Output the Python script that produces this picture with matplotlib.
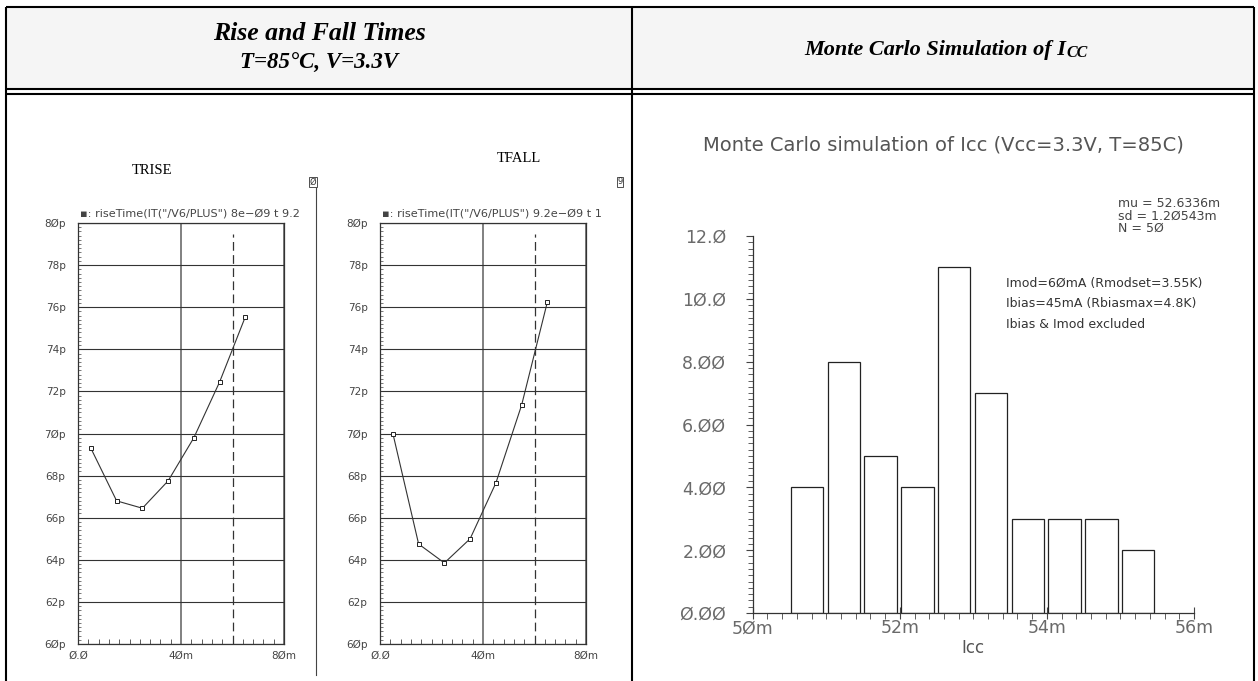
import matplotlib
matplotlib.use("Agg")
import matplotlib.pyplot as plt
from matplotlib.patches import Rectangle
from matplotlib.ticker import MultipleLocator, FuncFormatter, FixedLocator

# sweep values (m) and measured times (ps)
sweep_m = [5, 15, 25, 35, 45, 55, 65]
trise_ps = [69.3, 66.8, 66.45, 67.75, 69.8, 72.45, 75.55]
tfall_ps = [70.0, 64.75, 63.85, 65.0, 67.65, 71.35, 76.25]
cursor_m = 60

# Monte Carlo histogram of Icc (mA)
bin_left = [50.5, 51.0, 51.5, 52.0, 52.5, 53.0, 53.5, 54.0, 54.5, 55.0]
bin_count = [4, 8, 5, 4, 11, 7, 3, 3, 3, 2]

W, H = 1258, 681
fig = plt.figure(figsize=(W / 100, H / 100), dpi=100)

# table frame drawn in pixel coordinates
bg = fig.add_axes([0, 0, 1, 1])
bg.set_xlim(0, W)
bg.set_ylim(H, 0)
bg.axis("off")
bg.add_patch(Rectangle((6, 7), 1248, 82, facecolor="#f5f5f5", edgecolor="none"))
lw_frame = 1.5
for y in (7, 89, 94):
    bg.plot([6, 1254], [y, y], color="black", lw=lw_frame, solid_capstyle="butt")
for x in (6, 632, 1254):
    bg.plot([x, x], [7, H], color="black", lw=lw_frame, solid_capstyle="butt")
bg.plot([316, 316], [188, 675], color="#444444", lw=0.8)

serif = "Liberation Serif"
hdr = dict(family=serif, weight="bold", style="italic")
bg.text(319, 40, "Rise and Fall Times", ha="center", va="baseline", fontsize=18.5, **hdr)
bg.text(319, 69, "T=85°C, V=3.3V", ha="center", va="baseline", fontsize=16.5, **hdr)
t = bg.text(935, 55, "Monte Carlo Simulation of I", ha="center", va="baseline",
            fontsize=16, **hdr)
bg.annotate("CC", xy=(1, 0), xycoords=t, xytext=(0.5, -1), textcoords="offset points",
            ha="left", va="bottom", fontsize=11.5, **hdr)

bg.text(152, 170, "TRISE", ha="center", va="center", family=serif, fontsize=10.5)
bg.text(519, 158, "TFALL", ha="center", va="center", family=serif, fontsize=10.5)
for x, s in ((313, "Ø"), (620, "9")):
    bg.text(x, 182, s, ha="center", va="center", fontsize=6, color="#333333",
            bbox=dict(boxstyle="square,pad=0.1", facecolor="white",
                      edgecolor="#333333", lw=0.6))


def zslash(s):
    return s.replace("0", "Ø")


def small_plot(left, values, label):
    ax = fig.add_axes([left / W, (H - 644) / H, 206 / W, 421 / H])
    ax.plot(sweep_m, values, color="#333333", lw=0.8, marker="s", markersize=2.2,
            markerfacecolor="white", markeredgecolor="#222222", markeredgewidth=0.7)
    ax.axvline(cursor_m, ymax=0.975, color="#333333", lw=0.9, dashes=(7, 3.5))
    ax.set_xlim(0, 80)
    ax.set_ylim(60, 80)
    ax.xaxis.set_major_locator(FixedLocator([0, 40, 80]))
    ax.xaxis.set_minor_locator(MultipleLocator(4))
    ax.yaxis.set_major_locator(MultipleLocator(2))
    ax.yaxis.set_minor_locator(MultipleLocator(0.2))
    ax.xaxis.set_major_formatter(FuncFormatter(
        lambda v, p: "Ø.Ø" if v == 0 else zslash(f"{v:.0f}m")))
    ax.yaxis.set_major_formatter(FuncFormatter(lambda v, p: zslash(f"{v:.0f}p")))
    ax.grid(axis="y", color="#333333", lw=0.8)
    ax.grid(axis="x", color="#808080", lw=1.4)
    ax.tick_params(which="both", direction="in", right=False, top=False,
                   labelsize=7.5, labelcolor="#444444", color="#444444")
    ax.tick_params(axis="y", which="major", length=0, pad=9)
    ax.tick_params(axis="y", which="minor", length=2, width=0.5)
    ax.tick_params(axis="x", which="major", length=0, pad=5)
    ax.tick_params(axis="x", which="minor", length=3.5, width=0.6)
    for sp in ax.spines.values():
        sp.set_color("#333333")
        sp.set_linewidth(0.9)
    ax.set_axisbelow(True)
    ax.text(0.01, 1.01, "▪: " + label, transform=ax.transAxes, ha="left",
            va="bottom", fontsize=8.1, color="#444444")
    return ax


small_plot(78, trise_ps, 'riseTime(IT("/V6/PLUS") 8e−Ø9 t 9.2')
small_plot(380, tfall_ps, 'riseTime(IT("/V6/PLUS") 9.2e−Ø9 t 1')

# histogram panel
hx = fig.add_axes([752.7 / W, (H - 613) / H, (1194 - 752.7) / W, (613 - 236) / H])
hx.patch.set_visible(False)
hx.bar([b + 0.02 for b in bin_left], bin_count, width=0.44, align="edge",
       facecolor="white", edgecolor="#222222", lw=0.9)
hx.set_xlim(50, 56)
hx.set_ylim(0, 12)
hx.xaxis.set_major_locator(MultipleLocator(2))
hx.xaxis.set_minor_locator(MultipleLocator(0.2))
hx.yaxis.set_major_locator(MultipleLocator(2))
hx.yaxis.set_minor_locator(MultipleLocator(0.2))
hx.xaxis.set_major_formatter(FuncFormatter(lambda v, p: zslash(f"{v:.0f}m")))
hx.yaxis.set_major_formatter(FuncFormatter(
    lambda v, p: zslash(f"{v:.2f}" if v < 10 else f"{v:.1f}")))
for side in ("top", "right"):
    hx.spines[side].set_visible(False)
for side in ("left", "bottom"):
    hx.spines[side].set_color("#333333")
    hx.spines[side].set_linewidth(0.9)
hx.tick_params(which="both", color="#444444", labelcolor="#6a6a6a", labelsize=12.5)
hx.tick_params(axis="x", which="major", direction="inout", length=9, width=0.8, pad=0)
hx.tick_params(axis="x", which="minor", direction="out", length=4.5, width=0.6)
hx.tick_params(axis="y", which="major", length=5, width=0.8, pad=14)
hx.tick_params(axis="y", which="minor", length=3.5, width=0.6)
hx.set_xlabel("Icc", fontsize=12, color="#555555", labelpad=1)

bg.text(943, 145, "Monte Carlo simulation of Icc (Vcc=3.3V, T=85C)", ha="center",
        va="center", fontsize=14, color="#555555")
bg.text(1118, 216, "mu = 52.6336m\nsd = 1.2Ø543m\nN = 5Ø", ha="left", va="center",
        fontsize=9, color="#444444", linespacing=0.92)
for y, s in ((284, "Imod=6ØmA (Rmodset=3.55K)"),
             (304, "Ibias=45mA (Rbiasmax=4.8K)"),
             (325, "Ibias & Imod excluded")):
    bg.text(1006, y, s, ha="left", va="center", fontsize=9, color="#333333")

fig.savefig("out.png", dpi=100)
